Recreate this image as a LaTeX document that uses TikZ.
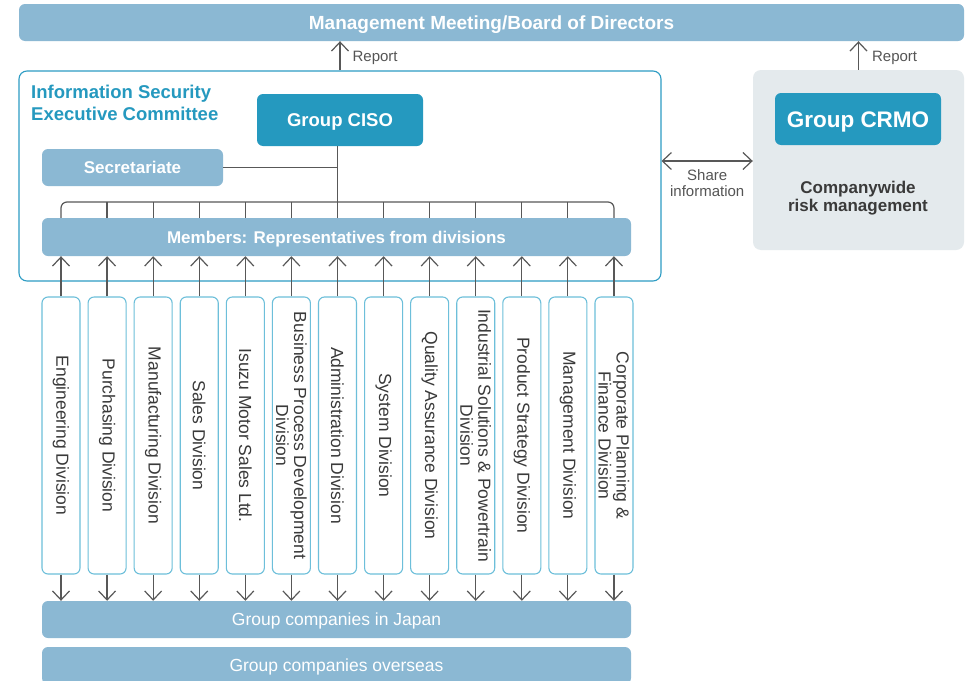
\documentclass[tikz,border=0pt]{standalone}
\usepackage{fontspec}
\setmainfont{Liberation Sans}
\usetikzlibrary{arrows.meta}
\definecolor{barblue}{HTML}{8BB8D3}
\definecolor{cisoblue}{HTML}{2599BF}
\definecolor{cmteborder}{HTML}{2E9CC4}
\definecolor{divborder}{HTML}{6DBFDA}
\definecolor{graybox}{HTML}{E4EAED}
\definecolor{linegray}{HTML}{585858}
\definecolor{txtgray}{HTML}{3A3A3A}
\definecolor{lblgray}{HTML}{555555}
\tikzset{
  x=1pt,y=-1pt,
  bar/.style={fill=barblue, rounded corners=6pt, text=white, inner sep=0pt,
    font=\bfseries\fontsize{17}{20}\selectfont, minimum height=37pt,
    text height=12.5pt, text depth=0pt},
  headbox/.style={fill=cisoblue, rounded corners=6pt, text=white, inner sep=0pt,
    minimum width=166pt, minimum height=52pt, text depth=0pt},
  divbox/.style={draw=divborder, line width=1.1pt, rounded corners=6pt, fill=white,
    minimum width=38pt, minimum height=277pt, inner sep=0pt},
  divtext/.style={rotate=-90, align=center, text=txtgray,
    font=\fontsize{17.5}{18}\selectfont},
  conn/.style={draw=linegray, line width=1.2pt},
  tipv/.tip={Straight Barb[length=9pt,width=17pt,line width=1.2pt]},
  arr/.style={conn, -tipv},
  darr/.style={conn, tipv-tipv},
  lbl/.style={text=lblgray, font=\fontsize{15}{16}\selectfont, inner sep=0pt, align=center}
}
\begin{document}
\begin{tikzpicture}
\useasboundingbox (0,0) rectangle (966,680);
\fill[white] (0,0) rectangle (966,680);

% top bar
\node[bar, minimum width=945pt, font=\bfseries\fontsize{19}{22}\selectfont, text height=14pt] (board) at (491.5,22.5) {Management Meeting/Board of Directors};

% committee frame
\node[draw=cmteborder, line width=1.1pt, rounded corners=8pt, minimum width=642pt, minimum height=210pt, inner sep=0pt] (cmte) at (340,176) {};
\node[anchor=north west, inner sep=0pt, align=left, text=cisoblue, font=\bfseries\fontsize{18.5}{22}\selectfont] (cmtitle) at (31,85) {Information Security\\Executive Committee};

% CISO
\node[headbox, font=\bfseries\fontsize{18.5}{22}\selectfont, text height=13.5pt] (ciso) at (340,120) {Group CISO};
% Secretariate
\node[bar, minimum width=181pt] (sec) at (132.5,167.5) {Secretariate};
% Members
\node[bar, minimum width=589pt, minimum height=38pt] (mem) at (336.5,237) {Members: Representatives from divisions};

% Right side
\node[fill=graybox, rounded corners=8pt, minimum width=211pt, minimum height=180pt, inner sep=0pt] (risk) at (858.5,160) {};
\node[headbox, font=\bfseries\fontsize{22.5}{26}\selectfont, text height=16pt] (crmo) at (858,119) {Group CRMO};
\node[inner sep=0pt, align=center, text=txtgray, font=\bfseries\fontsize{17}{17.5}\selectfont] (cw) at (858,198) {Companywide\\risk management};

% Divisions
\foreach \i/\t in {0/Engineering Division,1/Purchasing Division,2/Manufacturing Division,3/Sales Division,4/Isuzu Motor Sales Ltd.,5/{Business Process Development\\Division},6/Administration Division,7/System Division,8/Quality Assurance Division,9/{Industrial Solutions \& Powertrain\\Division},10/Product Strategy Division,11/Management Division,12/{Corporate Planning \&\\Finance Division}}{
  \node[divbox] (d\i) at ({61+46.08*\i},435.5) {};
  \node[divtext] (dt\i) at (d\i.center) {\t};
}

% Group companies
\node[bar, minimum width=589pt, font=\fontsize{17.5}{20}\selectfont] (jp) at (336.5,619.5) {Group companies in Japan};
\node[bar, minimum width=589pt, font=\fontsize{17.5}{20}\selectfont] (os) at (336.5,665.5) {Group companies overseas};

% connectors
\coordinate (brk) at (0,202);
\draw[conn, rounded corners=6pt] (d0.north |- mem.north) -- (d0.north |- brk) -- (d12.north |- brk) -- (d12.north |- mem.north);
\foreach \i in {1,...,11}{
  \draw[conn] (d\i.north |- brk) -- (d\i.north |- mem.north);
}
\draw[conn] (ciso.south -| d6.north) -- (d6.north |- brk);
\draw[conn] (sec.east) -- (sec.east -| d6.north);

\foreach \i in {0,...,12}{
  \draw[arr] (d\i.north) -- (d\i.north |- mem.south);
  \draw[arr] (d\i.south) -- (d\i.south |- jp.north);
}

% Reports
\draw[arr] (cmte.north) -- (cmte.north |- board.south) node[lbl, midway, anchor=west, xshift=12pt, yshift=-2pt] (rep1) {Report};
\draw[arr] (risk.north) -- (risk.north |- board.south) node[lbl, midway, anchor=west, xshift=13pt, yshift=-2pt] (rep2) {Report};

% share information
\coordinate (shy) at (0,161);
\draw[darr] (cmte.east |- shy) -- (risk.west |- shy) node[lbl, midway, below=8pt] (share) {Share\\information};
\end{tikzpicture}
\end{document}
